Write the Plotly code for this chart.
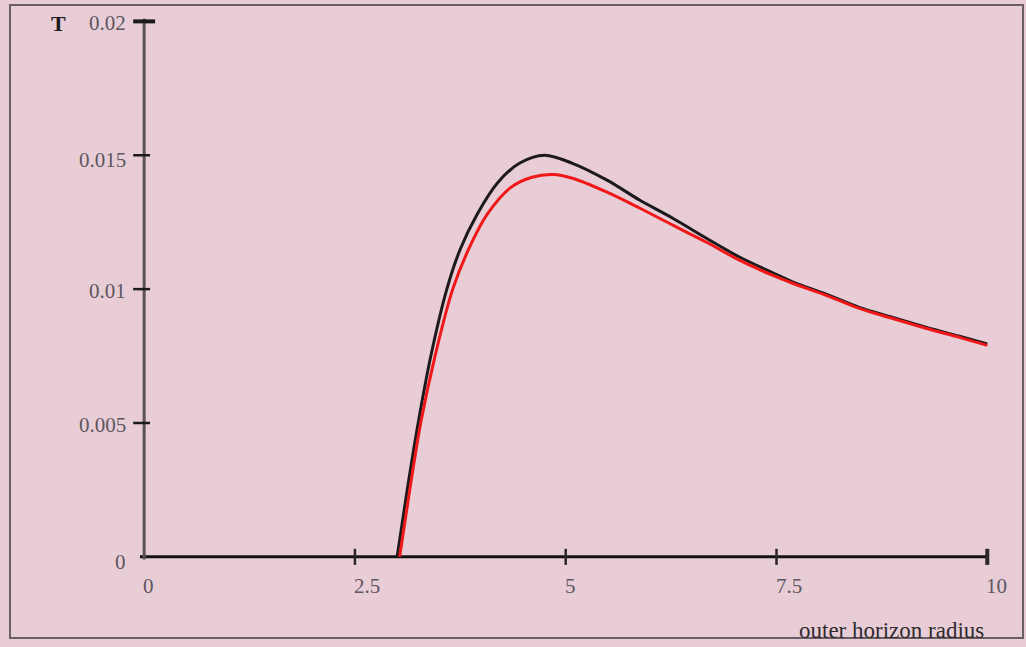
import plotly.graph_objects as go

# ---- data ----
r_black = [3.0, 3.12, 3.25, 3.40, 3.59, 3.75, 3.95, 4.2, 4.45, 4.75, 5.08, 5.49, 5.88,
           6.27, 6.67, 7.06, 7.45, 7.69, 8.09, 8.48, 8.87, 9.28, 9.67, 10.0]
t_black = [0.0, 0.0025, 0.005, 0.0075, 0.01, 0.0115, 0.0128, 0.0140, 0.0147,
           0.0150, 0.0147, 0.01407, 0.01332, 0.01265, 0.0119, 0.0112, 0.01062, 0.01027, 0.00981,
           0.00932, 0.00895, 0.00857, 0.00824, 0.00795]

r_red = [3.03, 3.15, 3.28, 3.45, 3.66, 3.85, 4.07, 4.35, 4.6, 4.85, 5.08, 5.49, 5.88, 6.27,
         6.67, 7.06, 7.45, 7.69, 8.09, 8.48, 8.87, 9.28, 9.67, 10.0]
t_red = [0.0, 0.0025, 0.005, 0.0075, 0.01, 0.0115, 0.0128, 0.0138, 0.01418, 0.01428,
         0.01414, 0.01362, 0.01302, 0.01239, 0.01175, 0.01108, 0.01052, 0.01022, 0.00977,
         0.00928, 0.00891, 0.00853, 0.0082, 0.0079]

x_ticks = [0, 2.5, 5, 7.5, 10]
x_tick_labels = ["0", "2.5", "5", "7.5", "10"]
y_ticks = [0, 0.005, 0.01, 0.015, 0.02]
y_tick_labels = ["0", "0.005", "0.01", "0.015", "0.02"]
x_title = "outer horizon radius"
y_title = "T"

BG = "#e8cdd6"
LABEL = "#5d5660"
SERIF = "Liberation Serif, Times New Roman, serif"

# layout geometry (pixels)
W, H = 1026, 647
ML, MR, MT, MB = 102, 5, 8, 58
PW, PH = W - ML - MR, H - MT - MB


def px(xp):
    return (xp - ML) / PW


def py(yp):
    return (H - MB - yp) / PH


fig = go.Figure()
fig.add_trace(go.Scatter(x=r_black, y=t_black, mode="lines",
                         line=dict(color="#1c1a1c", width=3, shape="spline", smoothing=0.9),
                         hoverinfo="skip", showlegend=False))
fig.add_trace(go.Scatter(x=r_red, y=t_red, mode="lines",
                         line=dict(color="#f01818", width=3, shape="spline", smoothing=0.9),
                         hoverinfo="skip", showlegend=False))

shapes = []
# axes lines
shapes.append(dict(type="line", xref="x", yref="y", x0=-0.05, x1=10.0, y0=0, y1=0,
                   line=dict(color="#141214", width=3), layer="below"))
shapes.append(dict(type="line", xref="x", yref="y", x0=0, x1=0, y0=-0.0001, y1=0.0201,
                   line=dict(color="#5a5258", width=3), layer="below"))
# x ticks (crossing the axis)
for v in x_ticks[1:]:
    shapes.append(dict(type="line", xref="x", yref="y", x0=v, x1=v, y0=-0.0003, y1=0.0003,
                       line=dict(color="#2a262a", width=4 if v == x_ticks[-1] else 2.5),
                       layer="below"))
# y ticks
for v in y_ticks[1:]:
    top = v == y_ticks[-1]
    shapes.append(dict(type="line", xref="x", yref="y", x0=-0.13, x1=0.13 if top else 0.07,
                       y0=v, y1=v, line=dict(color="#1c1a1c", width=4 if top else 2.5),
                       layer="below"))
# outer frame
shapes.append(dict(type="rect", xref="paper", yref="paper", x0=px(10), x1=px(1023),
                   y0=py(638), y1=py(5), line=dict(color="#6a5f66", width=2)))

annotations = []
for v, lab in zip(x_ticks, x_tick_labels):
    annotations.append(dict(x=v, y=py(586), xref="x", yref="paper", text=lab, showarrow=False,
                            xanchor="left", yanchor="middle", xshift=-3,
                            font=dict(family=SERIF, size=21, color=LABEL)))
for v, lab in zip(y_ticks, y_tick_labels):
    annotations.append(dict(x=px(128), y=v, xref="paper", yref="y", text=lab, showarrow=False,
                            xanchor="right", yanchor="middle",
                            yshift=-5 if v in (0, 0.015) else -2,
                            font=dict(family=SERIF, size=21, color=LABEL)))
annotations.append(dict(x=px(58), y=py(23), xref="paper", yref="paper", text="<b>" + y_title + "</b>",
                        showarrow=False, xanchor="center", yanchor="middle",
                        font=dict(family=SERIF, size=22, color="#1c1a1c")))
annotations.append(dict(x=px(986), y=py(630), xref="paper", yref="paper", text=x_title,
                        showarrow=False, xanchor="right", yanchor="middle",
                        font=dict(family=SERIF, size=23, color="#2e2a2e")))

fig.update_layout(
    width=W, height=H,
    margin=dict(l=ML, r=MR, t=MT, b=MB, pad=0),
    paper_bgcolor=BG, plot_bgcolor=BG,
    xaxis=dict(range=[-0.5, 10.4], showgrid=False, zeroline=False, showline=False,
               showticklabels=False, ticks=""),
    yaxis=dict(range=[-0.0012, 0.0205], showgrid=False, zeroline=False, showline=False,
               showticklabels=False, ticks=""),
    shapes=shapes, annotations=annotations,
)

fig.write_html("out.html", config={"displayModeBar": False})
